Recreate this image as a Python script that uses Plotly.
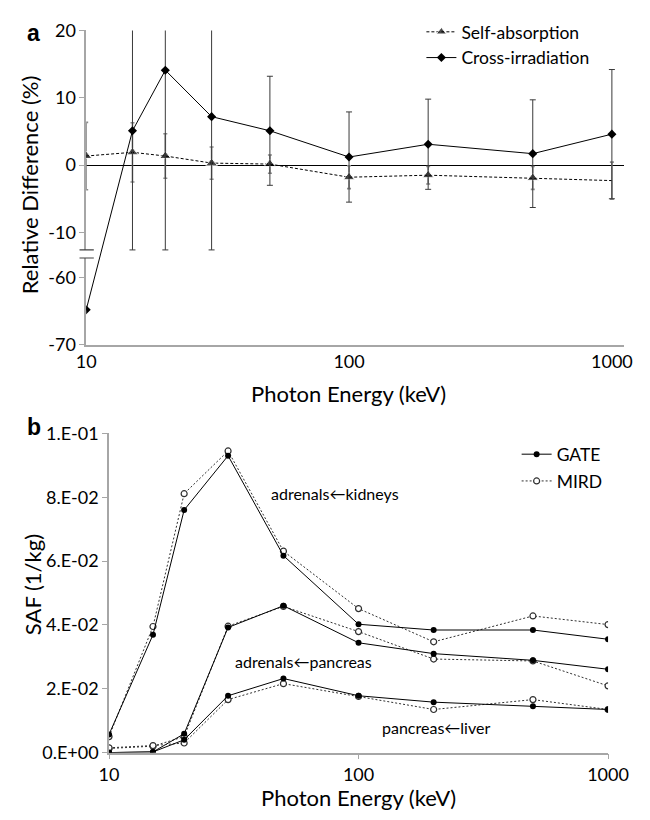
import plotly.graph_objects as go

# ---------------- data ----------------
ENERGY = [10, 15, 20, 30, 50, 100, 200, 500, 1000]

# panel a: relative difference (%)
SELF_ABS = [1.35, 1.9, 1.35, 0.3, 0.15, -1.8, -1.5, -1.9, -2.3]
SELF_ABS_ERR = [5.0, 4.4, 3.3, 2.4, 1.35, 1.7, 1.3, 1.7, 2.75]
CROSS_IRR = [-64.8, 5.1, 14.1, 7.2, 5.1, 1.2, 3.1, 1.7, 4.6]
CROSS_IRR_ERR = [0.0, 17.7, 26.7, 19.8, 8.1, 6.7, 6.7, 8.0, 9.6]

A_YTICKS = [20, 10, 0, -10, -60, -70]
A_YTICK_TEXT = ["20", "10", "0", "-10", "-60", "-70"]
X_TICKS = [10, 100, 1000]
X_TICK_TEXT = ["10", "100", "1000"]

# broken y axis in panel a: values below BREAK_LO are shifted up
BREAK_HI = -12.6
BREAK_LO = -57.1
BREAK_GAP = 1.2

# panel b: SAF (1/kg)
KID_GATE = [0.0057, 0.0369, 0.0760, 0.0930, 0.0617, 0.0402, 0.0384, 0.0384, 0.0355]
KID_MIRD = [0.0050, 0.0395, 0.0811, 0.0945, 0.0631, 0.0451, 0.0347, 0.0428, 0.0401]
PAN_GATE = [0.0000, 0.0002, 0.0059, 0.0392, 0.0460, 0.0344, 0.0310, 0.0289, 0.0261]
PAN_MIRD = [0.0013, 0.0020, 0.0050, 0.0396, 0.0458, 0.0379, 0.0293, 0.0287, 0.0209]
LIV_GATE = [0.0000, 0.0002, 0.0040, 0.0178, 0.0232, 0.0178, 0.0158, 0.0145, 0.0135]
LIV_MIRD = [0.0015, 0.0022, 0.0030, 0.0166, 0.0216, 0.0176, 0.0135, 0.0166, 0.0135]

B_YTICKS = [0.0, 0.02, 0.04, 0.06, 0.08, 0.10]
B_YTICK_TEXT = ["0.E+00", "2.E-02", "4.E-02", "6.E-02", "8.E-02", "1.E-01"]

# ---------------- helpers ----------------
W, H = 650, 820
FONT = "Lato"
OFFSET = BREAK_HI - BREAK_GAP - BREAK_LO


def brk(v):
    return v + OFFSET if v < BREAK_LO + 1e-9 else v


def px(x):
    return x / W


def py(y):
    return 1 - y / H


fig = go.Figure()

# ---------------- panel a ----------------
fig.add_trace(go.Scatter(
    x=ENERGY, y=[brk(v) for v in SELF_ABS], name="Self-absorption",
    mode="lines+markers",
    line=dict(color="black", width=1, dash="3px,2px"),
    marker=dict(symbol="triangle-up", size=[10] * (len(ENERGY) - 1) + [0], color="black"),
    error_y=dict(type="data", array=SELF_ABS_ERR, color="#8a8a8a", thickness=1.6, width=2),
    xaxis="x", yaxis="y", legend="legend",
))
fig.add_trace(go.Scatter(
    x=ENERGY, y=[brk(v) for v in CROSS_IRR], name="Cross-irradiation",
    mode="lines+markers",
    line=dict(color="black", width=1),
    marker=dict(symbol="diamond", size=7, color="black"),
    error_y=dict(type="data", array=CROSS_IRR_ERR, color="#3a3a3a", thickness=1, width=3),
    xaxis="x", yaxis="y", legend="legend",
))

# ---------------- panel b ----------------
groups = [(KID_GATE, KID_MIRD), (PAN_GATE, PAN_MIRD), (LIV_GATE, LIV_MIRD)]
for i, (g, m) in enumerate(groups):
    fig.add_trace(go.Scatter(
        x=ENERGY, y=m, name="MIRD", legendgroup="mird", showlegend=(i == 0),
        mode="lines+markers",
        line=dict(color="#303030", width=1, dash="2px,2px"),
        marker=dict(symbol="circle", size=6, color="white",
                    line=dict(color="#303030", width=1.2)),
        xaxis="x2", yaxis="y2", legend="legend2", legendrank=2,
    ))
    fig.add_trace(go.Scatter(
        x=ENERGY, y=g, name="GATE", legendgroup="gate", showlegend=(i == 0),
        mode="lines+markers",
        line=dict(color="black", width=1),
        marker=dict(symbol="circle", size=6, color="black"),
        xaxis="x2", yaxis="y2", legend="legend2", legendrank=1,
    ))

AX_GRAY = "#a6a6a6"
tick_font = dict(family=FONT, size=18, color="black")

fig.update_layout(
    width=W, height=H,
    margin=dict(l=0, r=0, t=0, b=0),
    paper_bgcolor="white", plot_bgcolor="white",
    font=dict(family=FONT, color="black"),
    xaxis=dict(
        type="log", range=[1, 3.047], domain=[px(80), px(645)], anchor="y",
        showline=True, linecolor=AX_GRAY, linewidth=2, showgrid=False, zeroline=False,
        tickvals=X_TICKS, ticktext=X_TICK_TEXT, ticks="", tickfont=tick_font,
    ),
    yaxis=dict(
        range=[brk(-70), 20], domain=[py(342), py(19)], anchor="x",
        showline=True, linecolor=AX_GRAY, linewidth=1.5, showgrid=False,
        zeroline=True, zerolinecolor="black", zerolinewidth=1,
        tickvals=[brk(v) for v in A_YTICKS], ticktext=A_YTICK_TEXT,
        ticks="outside", ticklen=5, tickcolor=AX_GRAY, tickfont=tick_font,
    ),
    xaxis2=dict(
        type="log", range=[1, 3], domain=[px(104), px(628)], anchor="y2",
        showline=True, linecolor=AX_GRAY, linewidth=1.5, showgrid=False, zeroline=False,
        tickvals=X_TICKS, ticktext=X_TICK_TEXT, ticks="outside", ticklen=5,
        tickcolor=AX_GRAY, tickfont=tick_font,
    ),
    yaxis2=dict(
        range=[0, 0.1], domain=[py(761), py(433)], anchor="x2",
        showline=True, linecolor=AX_GRAY, linewidth=1.5, showgrid=False, zeroline=False,
        tickvals=B_YTICKS, ticktext=B_YTICK_TEXT,
        ticks="outside", ticklen=5, tickcolor=AX_GRAY, tickfont=tick_font,
    ),
    legend=dict(
        x=px(432), y=py(2), xanchor="left", yanchor="top",
        bgcolor="rgba(0,0,0,0)", font=dict(family=FONT, size=17.5),
        tracegroupgap=0, itemwidth=30,
    ),
    legend2=dict(
        x=px(532), y=py(436), xanchor="left", yanchor="top",
        bgcolor="rgba(0,0,0,0)", font=dict(family=FONT, size=17.5),
        tracegroupgap=1, itemwidth=30,
    ),
    showlegend=True,
)

# broken-axis marks on panel a
fig.add_shape(type="rect", xref="paper", yref="y", x0=px(72), x1=px(89),
              y0=BREAK_HI - BREAK_GAP, y1=BREAK_HI, fillcolor="white",
              line=dict(width=0), layer="above")
for yv in (BREAK_HI, BREAK_HI - BREAK_GAP):
    fig.add_shape(type="line", xref="paper", yref="y", x0=px(73), x1=px(88),
                  y0=yv, y1=yv, line=dict(color="#404040", width=1.2), layer="above")

title_font = dict(family=FONT, size=22, color="black")
ann = [
    dict(text="<b>a</b>", x=px(25), y=py(22), font=dict(family="Liberation Sans", size=23)),
    dict(text="<b>b</b>", x=px(25), y=py(426), font=dict(family="Liberation Sans", size=23)),
    dict(text="Relative Difference (%)", x=px(20), y=py(178), textangle=-90, font=title_font),
    dict(text="Photon Energy (keV)", x=px(355), y=py(392), font=title_font),
    dict(text="SAF (1/kg)", x=px(23), y=py(588), textangle=-90, font=title_font),
    dict(text="Photon Energy (keV)", x=px(366), y=py(807), font=title_font),
    dict(text="adrenals\u2190kidneys", x=px(341), y=py(495), font=dict(family=FONT, size=16)),
    dict(text="adrenals\u2190pancreas", x=px(308), y=py(667), font=dict(family=FONT, size=16)),
    dict(text="pancreas\u2190liver", x=px(447), y=py(735), font=dict(family=FONT, size=16)),
]
for a in ann:
    fig.add_annotation(xref="paper", yref="paper", showarrow=False,
                       xanchor="center", yanchor="middle", **a)

fig.write_html("out.html")
